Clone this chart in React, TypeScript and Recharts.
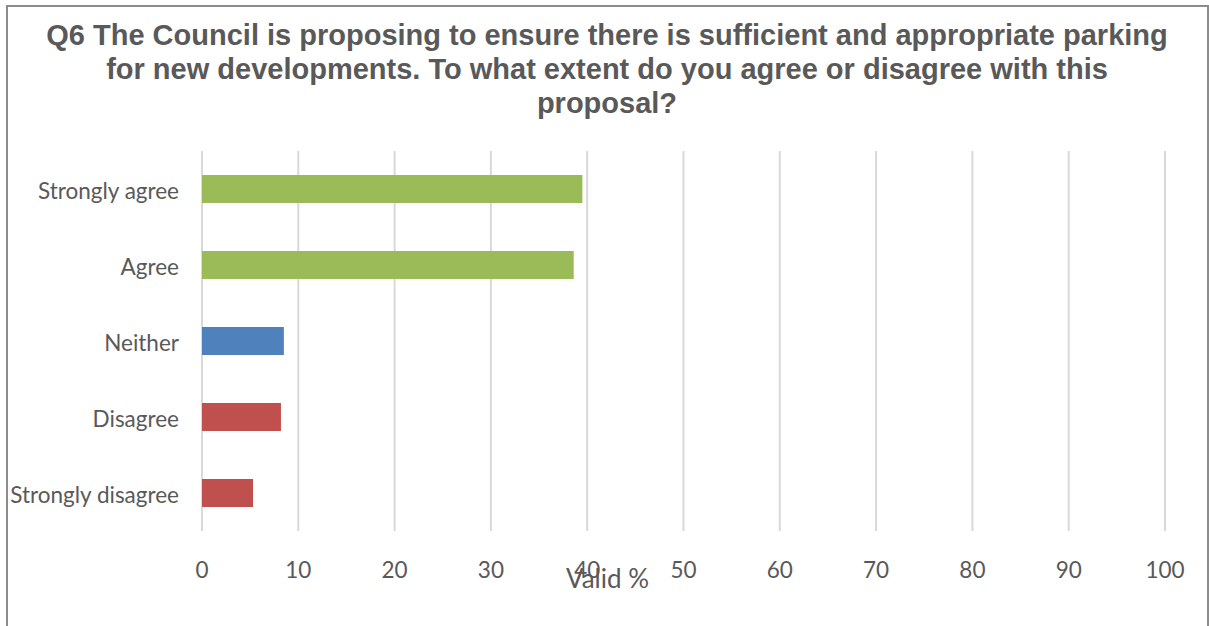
import React from "react"
import { BarChart, Bar, XAxis, YAxis, CartesianGrid, Cell, Label } from "recharts"

const categories = ["Strongly agree", "Agree", "Neither", "Disagree", "Strongly disagree"]
const validPct = [39.5, 38.6, 8.5, 8.2, 5.3]
const xTicks = [0, 10, 20, 30, 40, 50, 60, 70, 80, 90, 100]

const GREEN = "#9BBB59"
const BLUE = "#4F81BD"
const RED = "#C0504D"
const barColors = [GREEN, GREEN, BLUE, RED, RED]

const data = categories.map((name, i) => ({ name, value: validPct[i] }))

const TEXT = "#595959"
const FONT = "Lato, 'Open Sans', sans-serif"

export default function App() {
  return (
    <div style={{ position: "absolute", left: 0, top: 0, width: 1209, height: 626, background: "#fff", overflow: "hidden" }}>
      <div
        style={{
          position: "absolute",
          left: 6,
          top: 5,
          width: 1203,
          height: 640,
          border: "2px solid #8c8c8c",
          boxSizing: "border-box"
        }}
      />
      <div
        style={{
          position: "absolute",
          left: 6,
          width: 1202,
          top: 18,
          textAlign: "center",
          fontFamily: "'Liberation Sans', Arial, sans-serif",
          fontWeight: "bold",
          fontSize: 29,
          lineHeight: "34px",
          color: TEXT
        }}
      >
        Q6 The Council is proposing to ensure there is sufficient and appropriate parking
        <br />
        for new developments. To what extent do you agree or disagree with this
        <br />
        proposal?
      </div>
      <div style={{ position: "absolute", left: 0, top: 0 }}>
        <BarChart
          width={1209}
          height={626}
          data={data}
          layout="vertical"
          margin={{ top: 151, right: 44, bottom: 0, left: 0 }}
        >
          <CartesianGrid horizontal={false} stroke="#d9d9d9" strokeWidth={2} />
          <XAxis
            type="number"
            domain={[0, 100]}
            ticks={xTicks}
            interval={0}
            axisLine={false}
            tickLine={false}
            tickSize={0}
            tickMargin={31}
            tick={{ fill: TEXT, fontSize: 22.5, fontFamily: FONT }}
            height={95}
          >
            <Label
              value="Valid %"
              position="insideTop"
              offset={39}
              dx={-76}
              fill={TEXT}
              fontSize={26}
              fontFamily={FONT}
            />
          </XAxis>
          <YAxis
            type="category"
            dataKey="name"
            width={202}
            axisLine={false}
            tickLine={false}
            tickSize={0}
            tickMargin={23}
            tick={{ fill: TEXT, fontSize: 22.5, fontFamily: FONT, dy: 2 }}
          />
          <Bar dataKey="value" barSize={28} isAnimationActive={false}>
            {data.map((d, i) => (
              <Cell key={d.name} fill={barColors[i]} />
            ))}
          </Bar>
        </BarChart>
      </div>
    </div>
  )
}
